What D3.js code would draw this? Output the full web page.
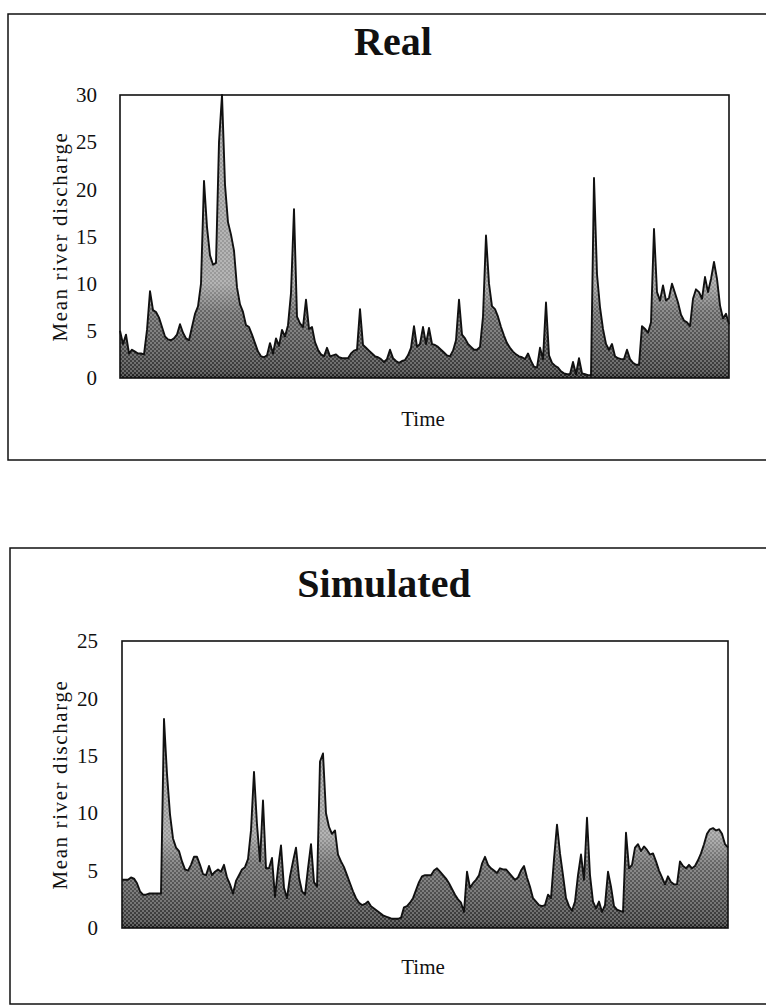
<!DOCTYPE html>
<html>
<head>
<meta charset="utf-8">
<script src="https://cdn.jsdelivr.net/npm/d3@7/dist/d3.min.js"></script>
<style>
  body { margin: 0; background: #fff; }
  svg { display: block; }
</style>
</head>
<body>
<div id="container"></div>
<script>
// Mean river discharge (uniform time steps)
var realDischarge = [
  5.0, 3.6, 4.6, 2.6, 3.0, 2.8, 2.6, 2.6, 2.5, 5.1,
  9.2, 7.2, 7.0, 6.4, 5.4, 4.4, 4.1, 4.0, 4.2, 4.6,
  5.7, 4.8, 4.2, 4.0, 5.4, 6.8, 7.6, 10.0, 20.9, 16.0,
  13.0, 12.0, 12.2, 25.0, 30.0, 20.5, 16.5, 15.2, 13.5, 9.6,
  7.8, 7.0, 5.6, 5.4, 4.6, 3.7, 2.8, 2.3, 2.2, 2.4,
  3.7, 2.6, 4.2, 3.4, 5.1, 4.4, 5.6, 9.0, 17.9, 6.5,
  5.8, 5.4, 8.3, 5.2, 5.4, 3.8, 3.0, 2.5, 2.3, 3.2,
  2.3, 2.4, 2.5, 2.2, 2.1, 2.1, 2.1, 2.6, 2.9, 3.0,
  7.3, 3.5, 3.2, 2.9, 2.6, 2.3, 2.2, 2.0, 1.7, 2.0,
  3.0, 2.1, 1.8, 1.6, 1.8, 1.9, 2.4, 3.2, 5.5, 3.3,
  3.6, 5.4, 3.6, 5.3, 3.6, 3.5, 3.3, 3.0, 2.7, 2.4,
  2.3, 2.9, 4.0, 8.3, 4.6, 4.2, 3.6, 3.3, 3.0, 3.0,
  3.3, 6.5, 15.1, 10.0, 7.6, 7.3, 6.5, 5.4, 4.5, 3.7,
  3.2, 2.8, 2.5, 2.3, 2.2, 2.0, 2.6, 1.8, 1.2, 1.1,
  3.2, 2.0, 8.0, 2.4, 1.6, 1.3, 1.1, 0.7, 0.5, 0.4,
  0.4, 1.7, 0.4, 2.1, 0.5, 0.4, 0.3, 0.3, 21.2, 11.0,
  7.5, 5.2, 3.6, 3.0, 3.6, 2.3, 2.1, 2.0, 2.0, 3.0,
  2.0, 1.6, 1.4, 1.4, 5.5, 5.2, 4.8, 5.9, 15.8, 9.1,
  8.2, 9.8, 8.2, 8.5, 10.0, 9.0, 8.0, 6.7, 6.1, 5.9,
  5.5, 8.4, 9.4, 9.1, 8.4, 10.7, 9.1, 10.5, 12.3, 10.5,
  7.7, 6.3, 6.8, 5.7
];

var simulatedDischarge = [
  4.2, 4.2, 4.2, 4.4, 4.3, 3.9, 3.2, 2.9, 2.9, 3.0,
  3.0, 3.0, 3.0, 3.0, 18.2, 13.4, 9.9, 7.8, 7.0, 6.7,
  5.8, 5.1, 5.0, 5.5, 6.2, 6.2, 5.5, 4.7, 4.6, 5.4,
  4.6, 4.9, 5.1, 4.9, 5.5, 4.4, 3.8, 3.0, 4.1, 4.6,
  5.1, 5.3, 6.0, 8.5, 13.6, 9.0, 5.8, 11.1, 5.2, 5.2,
  6.1, 2.7, 5.2, 7.2, 3.5, 2.6, 4.5, 5.8, 7.0, 4.4,
  3.2, 2.9, 5.2, 7.3, 4.0, 3.6, 14.5, 15.2, 10.0, 8.8,
  8.2, 8.5, 6.4, 5.8, 5.3, 4.6, 3.9, 3.2, 2.6, 2.2,
  2.0, 2.1, 2.3, 1.9, 1.7, 1.5, 1.3, 1.1, 1.0, 0.9,
  0.8, 0.8, 0.8, 0.9, 1.8, 1.9, 2.2, 2.6, 3.3, 4.0,
  4.5, 4.6, 4.6, 4.6, 5.0, 5.2, 4.9, 4.6, 4.3, 3.9,
  3.4, 2.9, 2.5, 2.2, 1.4, 4.9, 3.5, 3.9, 4.2, 4.6,
  5.6, 6.2, 5.5, 5.2, 5.0, 4.8, 5.2, 5.1, 5.1, 4.8,
  4.5, 4.2, 4.4, 5.0, 5.4, 4.4, 3.6, 2.6, 2.3, 2.0,
  1.9, 2.0, 2.9, 2.6, 6.0, 9.0, 6.5, 4.6, 2.6, 1.9,
  1.5, 2.3, 4.6, 6.4, 4.2, 9.6, 4.6, 2.3, 1.7, 2.3,
  1.4, 2.0, 4.9, 3.6, 1.9, 1.6, 1.5, 1.4, 8.3, 5.2,
  5.5, 7.0, 7.3, 6.7, 7.1, 6.8, 6.4, 6.5, 5.8, 5.0,
  4.4, 3.8, 4.5, 4.0, 3.8, 3.8, 5.8, 5.4, 5.2, 5.5,
  5.2, 5.4, 5.9, 6.5, 7.3, 8.2, 8.6, 8.7, 8.5, 8.6,
  8.2, 7.3, 7.0
];

var realTicks = [0, 5, 10, 15, 20, 25, 30];
var simulatedTicks = [0, 5, 10, 15, 20, 25];

var w = 766;
var h = 1008;

var svg = d3.select("div#container")
            .append("svg")
            .attr("width", w)
            .attr("height", h)
            .style("background-color", "#fff");

var defs = svg.append("defs");

// pontos do reticulado (halftone) da impressao
var dots = defs.append("pattern")
    .attr("id", "dots")
    .attr("patternUnits", "userSpaceOnUse")
    .attr("width", 4)
    .attr("height", 4);
dots.append("circle").attr("cx", 1).attr("cy", 1).attr("r", 0.8).attr("fill", "#fff");
dots.append("circle").attr("cx", 3).attr("cy", 3).attr("r", 0.8).attr("fill", "#fff");

var serif = "'Liberation Serif', 'DejaVu Serif', serif";

function desenharPainel(cfg) {
    var g = svg.append("g");

    // moldura externa
    g.append("rect")
        .attr("x", cfg.box[0]).attr("y", cfg.box[1])
        .attr("width", cfg.box[2]).attr("height", cfg.box[3])
        .attr("fill", "none").attr("stroke", "#111").attr("stroke-width", 1.5);

    g.append("text")
        .attr("x", cfg.titleX).attr("y", cfg.titleY)
        .attr("text-anchor", "middle")
        .style("font-family", serif)
        .style("font-weight", "bold")
        .style("font-size", "40px")
        .style("fill", "#111")
        .text(cfg.title);

    var x = d3.scaleLinear().domain([0, cfg.data.length - 1]).range([cfg.left, cfg.right]);
    var y = d3.scaleLinear().domain([0, d3.max(cfg.ticks)]).range([cfg.bottom, cfg.top]);

    var grad = defs.append("linearGradient")
        .attr("id", "grad" + cfg.id)
        .attr("gradientUnits", "userSpaceOnUse")
        .attr("x1", 0).attr("x2", 0)
        .attr("y1", y(0)).attr("y2", y(cfg.lightAt));
    grad.append("stop").attr("offset", 0).attr("stop-color", "#141414");
    grad.append("stop").attr("offset", 0.06).attr("stop-color", "#363636");
    grad.append("stop").attr("offset", 0.4).attr("stop-color", "#505050");
    grad.append("stop").attr("offset", 0.7).attr("stop-color", "#646464");
    grad.append("stop").attr("offset", 1).attr("stop-color", "#9a9a9a");

    var area = d3.area()
        .x(function(d, i) { return x(i); })
        .y0(y(0))
        .y1(function(d) { return y(d); });
    var line = d3.line()
        .x(function(d, i) { return x(i); })
        .y(function(d) { return y(d); });

    g.append("path").datum(cfg.data).attr("d", area).attr("fill", "url(#grad" + cfg.id + ")");
    g.append("path").datum(cfg.data).attr("d", area).attr("fill", "url(#dots)").attr("opacity", 0.6);
    g.append("path").datum(cfg.data).attr("d", line)
        .attr("fill", "none").attr("stroke", "#111")
        .attr("stroke-width", 1.9).attr("stroke-linejoin", "round");

    g.append("rect")
        .attr("x", cfg.left).attr("y", cfg.top)
        .attr("width", cfg.right - cfg.left).attr("height", cfg.bottom - cfg.top)
        .attr("fill", "none").attr("stroke", "#111").attr("stroke-width", 1.6);

    var eixo = g.append("g")
        .attr("transform", "translate(" + cfg.left + ",0)")
        .call(d3.axisLeft(y).tickValues(cfg.ticks).tickSize(0).tickPadding(cfg.pad));
    eixo.select(".domain").remove();
    eixo.selectAll("text")
        .style("font-family", serif)
        .style("font-size", "21px")
        .style("fill", "#111");

    g.append("text")
        .attr("transform", "translate(" + cfg.ylabX + "," + ((cfg.top + cfg.bottom) / 2) + ") rotate(-90)")
        .attr("text-anchor", "middle")
        .style("font-family", serif)
        .style("font-size", "21px")
        .style("letter-spacing", "1.6px")
        .style("fill", "#111")
        .text("Mean river discharge");

    g.append("text")
        .attr("x", 423).attr("y", cfg.timeY)
        .attr("text-anchor", "middle")
        .style("font-family", serif)
        .style("font-size", "21px")
        .style("fill", "#111")
        .text("Time");
}

desenharPainel({
    id: "real", title: "Real", data: realDischarge, ticks: realTicks,
    box: [8, 14, 780, 446], titleX: 393, titleY: 55,
    left: 120, right: 729, top: 95, bottom: 378, pad: 23,
    ylabX: 67, timeY: 426, lightAt: 10
});

desenharPainel({
    id: "sim", title: "Simulated", data: simulatedDischarge, ticks: simulatedTicks,
    box: [10, 548, 780, 456], titleX: 384, titleY: 597,
    left: 122, right: 728, top: 641, bottom: 928, pad: 24,
    ylabX: 67, timeY: 974, lightAt: 8
});
</script>
</body>
</html>
